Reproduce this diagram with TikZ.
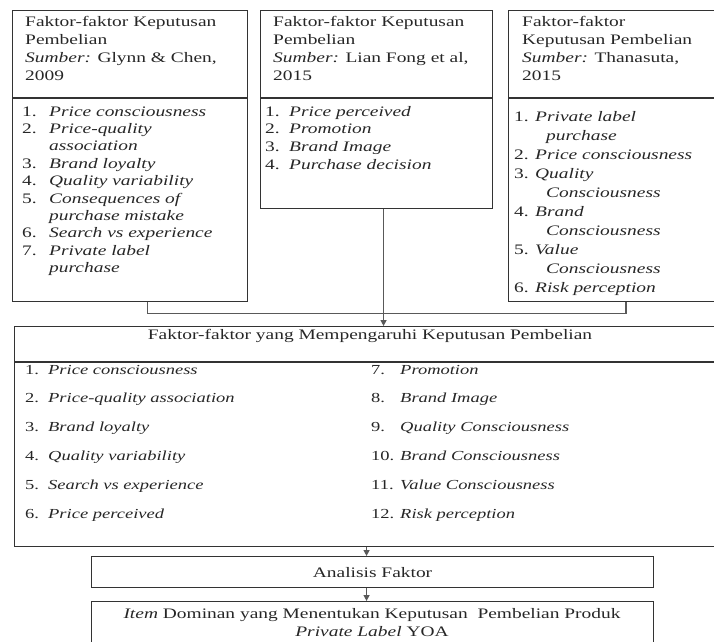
\documentclass[tikz,border=0pt]{standalone}
\usepackage{fontspec}
\setmainfont{Liberation Serif}[FakeStretch=1.34]
\usepackage{tikz}
\usetikzlibrary{arrows.meta}
\usetikzlibrary{positioning}

\newcommand{\nomor}[2][27pt]{\makebox[#1][l]{#2}}

\begin{document}
\begin{tikzpicture}[x=1pt, y=-1pt,
  kotak/.style={draw=black!80, line width=1.1pt, anchor=north west, inner sep=0pt},
  teks/.style={anchor=base west, align=left, inner sep=0pt, text=black!85,
    font=\fontsize{14.5}{17.7}\selectfont},
  garis/.style={draw=black!65, line width=1.3pt},
  panah/.style={garis, -{Triangle[length=6pt, width=6pt]}}]

\useasboundingbox (0,0) rectangle (714,641);
\clip (0,0) rectangle (714,641);

% Kotak sumber
\node[kotak, minimum width=235, minimum height=87] (k1a) at (12,10) {};
\node[kotak, minimum width=235, minimum height=203] (k1b) at (k1a.south west) {};
\node[kotak, minimum width=232, minimum height=87] (k2a) at (260,10) {};
\node[kotak, minimum width=232, minimum height=110] (k2b) at (k2a.south west) {};
\node[kotak, minimum width=235, minimum height=87] (k3a) at (508,10) {};
\node[kotak, minimum width=235, minimum height=203] (k3b) at (k3a.south west) {};

% Isi kotak sumber (anchor base = baris terakhir)
\node[teks] (t1a) at (25,80) {Faktor-faktor Keputusan\\ Pembelian\\
  \textit{Sumber:} Glynn \& Chen,\\ 2009};
\node[teks, font=\fontsize{14.5}{17.4}\selectfont] (t1b) at (22,272.6) {%
  \nomor{1.}\textit{Price consciousness}\\
  \nomor{2.}\textit{Price-quality}\\
  \nomor{}\textit{association}\\
  \nomor{3.}\textit{Brand loyalty}\\
  \nomor{4.}\textit{Quality variability}\\
  \nomor{5.}\textit{Consequences of}\\
  \nomor{}\textit{purchase mistake}\\
  \nomor{6.}\textit{Search vs experience}\\
  \nomor{7.}\textit{Private label}\\
  \nomor{}\textit{purchase}};

\node[teks] (t2a) at (273,80) {Faktor-faktor Keputusan\\ Pembelian\\
  \textit{Sumber:} Lian Fong et al,\\ 2015};
\node[teks, font=\fontsize{14.5}{17.8}\selectfont] (t2b) at (265,169.4) {%
  \nomor[24pt]{1.}\textit{Price perceived}\\
  \nomor[24pt]{2.}\textit{Promotion}\\
  \nomor[24pt]{3.}\textit{Brand Image}\\
  \nomor[24pt]{4.}\textit{Purchase decision}};

\node[teks] (t3a) at (522,80) {Faktor-faktor\\ Keputusan Pembelian\\
  \textit{Sumber:} Thanasuta,\\ 2015};
\node[teks, font=\fontsize{14.5}{19}\selectfont] (t3b) at (514,292) {%
  \nomor[21pt]{1.}\textit{Private label}\\
  \nomor[32pt]{}\textit{purchase}\\
  \nomor[21pt]{2.}\textit{Price consciousness}\\
  \nomor[21pt]{3.}\textit{Quality}\\
  \nomor[32pt]{}\textit{Consciousness}\\
  \nomor[21pt]{4.}\textit{Brand}\\
  \nomor[32pt]{}\textit{Consciousness}\\
  \nomor[21pt]{5.}\textit{Value}\\
  \nomor[32pt]{}\textit{Consciousness}\\
  \nomor[21pt]{6.}\textit{Risk perception}};

% Kotak gabungan
\node[kotak, minimum width=738, minimum height=35] (k4a) at (14,326) {};
\node[kotak, minimum width=738, minimum height=184] (k4b) at (k4a.south west) {};
\node[teks, anchor=base] (t4a) at (370,339) {Faktor-faktor yang Mempengaruhi Keputusan Pembelian};
\node[teks, font=\fontsize{13.8}{28.9}\selectfont] (t4b) at (25,518.5) {%
  \nomor[23pt]{1.}\textit{Price consciousness}\\
  \nomor[23pt]{2.}\textit{Price-quality association}\\
  \nomor[23pt]{3.}\textit{Brand loyalty}\\
  \nomor[23pt]{4.}\textit{Quality variability}\\
  \nomor[23pt]{5.}\textit{Search vs experience}\\
  \nomor[23pt]{6.}\textit{Price perceived}};
\node[teks, font=\fontsize{13.8}{28.9}\selectfont] (t4c) at (371,518.5) {%
  \nomor[29pt]{7.}\textit{Promotion}\\
  \nomor[29pt]{8.}\textit{Brand Image}\\
  \nomor[29pt]{9.}\textit{Quality Consciousness}\\
  \nomor[29pt]{10.}\textit{Brand Consciousness}\\
  \nomor[29pt]{11.}\textit{Value Consciousness}\\
  \nomor[29pt]{12.}\textit{Risk perception}};

% Analisis dan hasil
\node[kotak, minimum width=562, minimum height=31, text=black!85,
  font=\fontsize{14.5}{17.7}\selectfont] (k5) at (91,556) {Analisis Faktor};
\node[kotak, minimum width=562, minimum height=60] (k6) at (91,601) {};
\node[teks, anchor=base, align=center] (t6) at (372,636) {\textit{Item} Dominan yang
  Menentukan Keputusan\ \ Pembelian Produk\\ \textit{Private Label} YOA};

% Garis penghubung
\draw[garis] ([xshift=17.5pt]k1b.south) -- ++(0,11) -| (k3b.south);
\coordinate (c2) at ([xshift=7pt]k2b.south);
\draw[panah] (c2) -- (c2 |- k4a.north);
\coordinate (c4) at ([xshift=-6pt]k5.north |- k4b.south);
\draw[panah] (c4) -- (c4 |- k5.north);
\draw[panah] (c4 |- k5.south) -- (c4 |- k6.north);

\end{tikzpicture}
\end{document}
